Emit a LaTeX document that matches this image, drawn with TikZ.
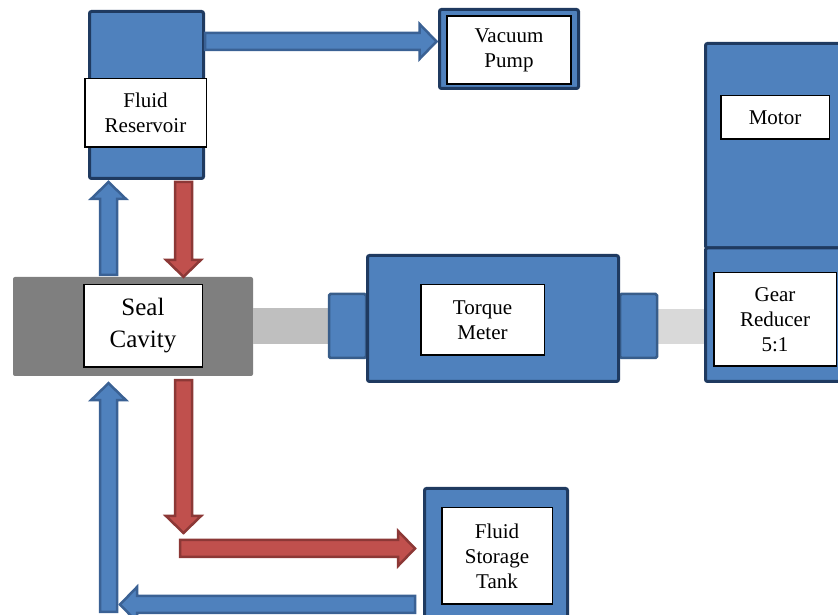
\documentclass[tikz,border=0pt]{standalone}
\usepackage{fontspec}
\setmainfont{Liberation Serif}
\usetikzlibrary{calc}
\definecolor{unitblue}{HTML}{4F81BD}
\definecolor{unitnavy}{HTML}{1F3A60}
\definecolor{flangeline}{HTML}{385D8A}
\definecolor{flowblue}{HTML}{4F81BD}
\definecolor{flowblueline}{HTML}{3A6194}
\definecolor{flowred}{HTML}{C0504D}
\definecolor{flowredline}{HTML}{8C3836}
\definecolor{sealgray}{HTML}{7F7F7F}
% block arrow: style, from, to
\def\shaftw{8.5pt}
\def\headw{17.5pt}
\def\headl{17pt}
\newcommand{\flowarrow}[3]{%
  \filldraw[#1] let \p1=(#2), \p2=(#3),
    \n1={atan2(\y2-\y1,\x2-\x1)}, \n2={veclen(\x2-\x1,\y2-\y1)} in
    ($(\p1)+({\n1+90}:\shaftw)$)
    -- ($(\p1)+({\n1}:{\n2-\headl})+({\n1+90}:\shaftw)$)
    -- ($(\p1)+({\n1}:{\n2-\headl})+({\n1+90}:\headw)$)
    -- (\p2)
    -- ($(\p1)+({\n1}:{\n2-\headl})+({\n1-90}:\headw)$)
    -- ($(\p1)+({\n1}:{\n2-\headl})+({\n1-90}:\shaftw)$)
    -- ($(\p1)+({\n1-90}:\shaftw)$) -- cycle;}
\begin{document}
\begin{tikzpicture}[x=1pt, y=1pt,
  unit/.style={draw=unitnavy, line width=3pt, fill=unitblue, rounded corners=2pt, inner sep=0pt},
  flange/.style={draw=flangeline, line width=2.5pt, fill=unitblue, rounded corners=1.5pt, inner sep=0pt},
  shaft/.style={fill=#1, inner sep=0pt},
  tag/.style={draw=black, line width=1.5pt, fill=white, align=center, inner sep=0pt,
    font=\fontsize{21}{25}\selectfont},
  blueflow/.style={fill=flowblue, draw=flowblueline, line width=2.5pt},
  redflow/.style={fill=flowred, draw=flowredline, line width=2.5pt}]
\useasboundingbox (0,0) rectangle (838,615);
\clip (0,0) rectangle (838,615);
% Fluid side
\node[unit, minimum width=114, minimum height=167] (reservoir) at (146.5,520) {};
\node[unit, minimum width=139, minimum height=79] (vacuum) at (509,566) {};
\node[fill=sealgray, rounded corners=2pt, minimum width=240, minimum height=99, inner sep=0pt] (seal) at (133,288.5) {};
\node[unit, minimum width=143, minimum height=136.5] (tank) at (496,58.25) {};
% Drive line
\node[shaft=black!25, minimum width=76, minimum height=36] (shaftL) at (290.5,289) {};
\node[shaft=black!15, minimum width=47, minimum height=35] (shaftR) at (681.5,288.5) {};
\node[flange, minimum width=37, minimum height=64] (flangeL) at (347.5,289) {};
\node[flange, minimum width=37, minimum height=64] (flangeR) at (638.5,289) {};
\node[unit, minimum width=251, minimum height=126] (meter) at (493,296.5) {};
\node[unit, minimum width=153, minimum height=204.5] (motor) at (782,469.25) {};
\node[unit, minimum width=153, minimum height=133.5] (gear) at (782,300.25) {};
% Labels
\node[tag, minimum width=121.5, minimum height=68.5] (resLabel) at (145.5,502) {Fluid\\Reservoir};
\node[tag, minimum width=124, minimum height=68] (vacLabel) at (509,565) {Vacuum\\Pump};
\node[tag, minimum width=118.5, minimum height=82.5, font=\fontsize{25}{32}\selectfont] (sealLabel) at (143,289) {Seal\\Cavity};
\node[tag, minimum width=123.5, minimum height=70.5] (meterLabel) at (482.5,295) {Torque\\Meter};
\node[tag, minimum width=108.5, minimum height=43.5] (motorLabel) at (775,497.5) {Motor};
\node[tag, minimum width=122.5, minimum height=93.5] (gearLabel) at (775,295.5) {Gear\\Reducer\\5:1};
\node[tag, minimum width=110.5, minimum height=96.5] (tankLabel) at (497,59) {Fluid\\Storage\\Tank};
% Flow arrows
\coordinate (ventIn) at ($(vacuum.west)+(-1.5,7.5)$);
\coordinate (drainTurn) at (183.5,82);
\coordinate (drainStart) at (180,66.5);
\coordinate (returnTurn) at (120,10.5);
\coordinate (returnFoot) at (108.5,3);
\flowarrow{blueflow}{reservoir.east |- ventIn}{ventIn}
\flowarrow{blueflow}{$(seal.north)+(-24.5,2)$}{$(reservoir.south)+(-38,-2)$}
\flowarrow{redflow}{$(reservoir.south)+(37,-2)$}{$(seal.north)+(50.5,0)$}
\flowarrow{redflow}{$(seal.south)+(50.5,-4)$}{drainTurn}
\flowarrow{redflow}{drainStart}{$(tank.west)+(-8,8.25)$}
\flowarrow{blueflow}{$(tank.west)+(-8,-47.75)$}{returnTurn}
\flowarrow{blueflow}{returnFoot}{$(seal.south)+(-24.5,-7)$}
\end{tikzpicture}
\end{document}
